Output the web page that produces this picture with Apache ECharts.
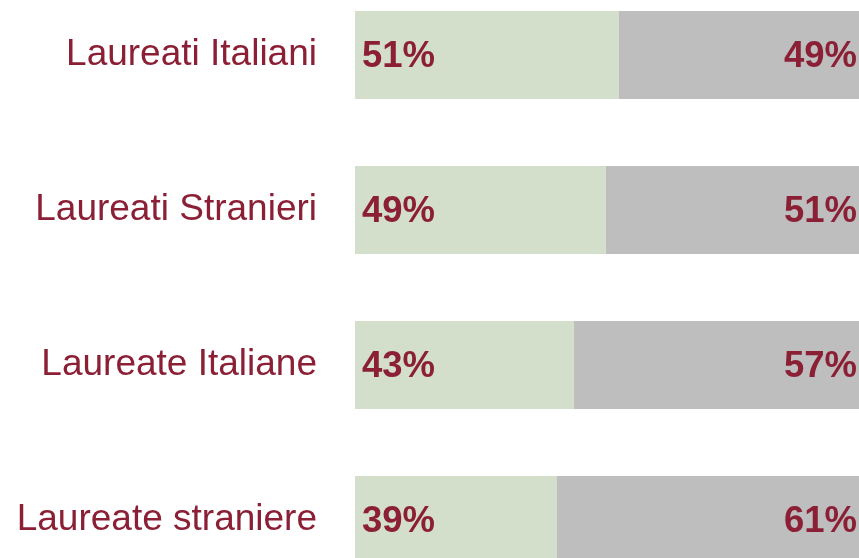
<!DOCTYPE html>
<html>
<head>
<meta charset="utf-8">
<script src="https://cdn.jsdelivr.net/npm/echarts@6/dist/echarts.min.js"></script>
<style>
html,body{margin:0;padding:0;background:#fff;overflow:hidden;width:859px;height:558px;position:relative;}
#c{position:absolute;left:0;top:-100px;width:959px;height:758px;}
</style>
</head>
<body>
<div id="c"></div>
<script>
var categories = ['Laureati Italiani', 'Laureati Stranieri', 'Laureate Italiane', 'Laureate straniere'];
var leftValues = [51.4, 48.9, 42.7, 39.3];
var rightValues = [48.6, 51.1, 57.3, 60.7];

var chart = echarts.init(document.getElementById('c'), null, {renderer: 'canvas'});
var textColor = '#8a1f35';
var ff = 'Liberation Sans, Arial, Helvetica, sans-serif';
function pct(p) { return Math.round(p.value) + '%'; }
chart.setOption({
  animation: false,
  backgroundColor: '#ffffff',
  grid: {left: 355, right: 91, top: 77.5, bottom: 60.5, containLabel: false},
  xAxis: {type: 'value', min: 0, max: 100, show: false},
  yAxis: {
    type: 'category', data: categories, inverse: true,
    axisLine: {show: false}, axisTick: {show: false}, splitLine: {show: false},
    axisLabel: {color: textColor, fontSize: 37, fontFamily: ff, margin: 38, padding: [4, 0, 0, 0]}
  },
  series: [
    {
      type: 'bar', stack: 'a', data: leftValues, barWidth: 88,
      itemStyle: {color: '#d4dfcb'},
      label: {show: true, position: 'insideLeft', distance: 7, formatter: pct, offset: [0, 2],
        color: textColor, fontSize: 36.5, fontWeight: 'bold', fontFamily: ff}
    },
    {
      type: 'bar', stack: 'a', data: rightValues, barWidth: 88,
      itemStyle: {color: '#bebebe'},
      label: {show: true, position: 'insideRight', distance: 11, formatter: pct, offset: [0, 2],
        color: textColor, fontSize: 36.5, fontWeight: 'bold', fontFamily: ff}
    }
  ]
});
</script>
</body>
</html>
